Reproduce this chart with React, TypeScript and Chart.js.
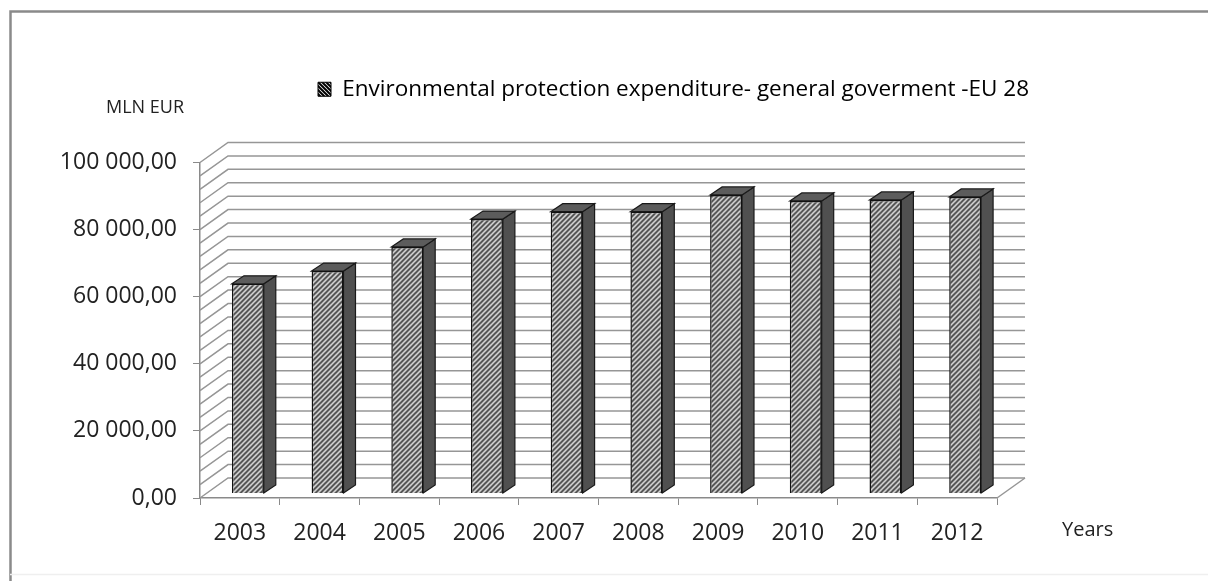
import React, { useEffect, useRef } from "react";
import { Chart, registerables } from "chart.js";

Chart.register(...registerables);

const years = ["2003", "2004", "2005", "2006", "2007", "2008", "2009", "2010", "2011", "2012"];
const expenditure = [62500, 66300, 73500, 81800, 84000, 84000, 89000, 87200, 87500, 88400];
const seriesName = "Environmental protection expenditure- general goverment -EU 28";
const yMax = 100000;
const yGridStep = 4000;
const yLabelStep = 20000;

const FONT = "'Open Sans', sans-serif";
const WALL_DX = 28;
const WALL_DY = 20;
const BAR_DX = 8;
const BAR_DY = 4.5;
const DEPTH_X = 12;
const DEPTH_Y = 8;

function fmt(v: number): string {
  const s = String(v);
  if (v === 0) return "0,00";
  return s.slice(0, -3) + " " + s.slice(-3) + ",00";
}

function hatch(dir: 1 | -1, size: number, bg: string, fg: string, lw: number): CanvasPattern {
  const c = document.createElement("canvas");
  c.width = size;
  c.height = size;
  const g = c.getContext("2d")!;
  g.fillStyle = bg;
  g.fillRect(0, 0, size, size);
  g.strokeStyle = fg;
  g.lineWidth = lw;
  const n = size;
  const segs = dir === 1
    ? [[-1, n + 1, n + 1, -1], [-1, 1, 1, -1], [n - 1, n + 1, n + 1, n - 1]]
    : [[-1, -1, n + 1, n + 1], [-1, n - 1, 1, n + 1], [n - 1, -1, n + 1, 1]];
  for (const [a, b, d, e] of segs) {
    g.beginPath();
    g.moveTo(a, b);
    g.lineTo(d, e);
    g.stroke();
  }
  return g.createPattern(c, "repeat")!;
}

const scene3d = {
  id: "scene3d",
  afterLayout(chart: any) {
    const lg = chart.legend;
    if (lg) {
      lg.left = 308;
      lg.right = 1100;
      lg.top = 68;
    }
  },
  beforeDatasetsDraw(chart: any) {
    const { ctx, scales, chartArea } = chart;
    const y = scales.y;
    ctx.save();
    ctx.strokeStyle = "#969696";
    ctx.lineWidth = 1.5;
    y.ticks.forEach((t: any) => {
      const py = y.getPixelForValue(t.value);
      ctx.beginPath();
      ctx.moveTo(chartArea.left, py);
      ctx.lineTo(chartArea.left + WALL_DX, py - WALL_DY);
      ctx.lineTo(chartArea.right + WALL_DX, py - WALL_DY);
      ctx.stroke();
    });
    const by = y.getPixelForValue(0);
    ctx.beginPath();
    ctx.moveTo(chartArea.right, by);
    ctx.lineTo(chartArea.right + WALL_DX, by - WALL_DY);
    ctx.stroke();
    ctx.restore();

    ctx.save();
    ctx.translate(BAR_DX, -BAR_DY);
    chart.getDatasetMeta(0).data.forEach((b: any) => {
      const l = b.x - b.width / 2;
      const r = b.x + b.width / 2;
      ctx.fillStyle = "#505050";
      ctx.strokeStyle = "#1a1a1a";
      ctx.lineWidth = 1.2;
      ctx.beginPath();
      ctx.moveTo(r, b.base);
      ctx.lineTo(r + DEPTH_X, b.base - DEPTH_Y);
      ctx.lineTo(r + DEPTH_X, b.y - DEPTH_Y);
      ctx.lineTo(r, b.y);
      ctx.closePath();
      ctx.fill();
      ctx.stroke();
      ctx.fillStyle = "#5c5c5c";
      ctx.beginPath();
      ctx.moveTo(l, b.y);
      ctx.lineTo(l + DEPTH_X, b.y - DEPTH_Y);
      ctx.lineTo(r + DEPTH_X, b.y - DEPTH_Y);
      ctx.lineTo(r, b.y);
      ctx.closePath();
      ctx.fill();
      ctx.stroke();
    });
    ctx.restore();
    ctx.save();
    ctx.translate(BAR_DX, -BAR_DY);
  },
  afterDatasetsDraw(chart: any) {
    chart.ctx.restore();
  },
  afterDraw(chart: any) {
    const { ctx, width, height } = chart;
    ctx.save();
    ctx.strokeStyle = "#8a8a8a";
    ctx.lineWidth = 2.5;
    ctx.beginPath();
    ctx.moveTo(10.5, height);
    ctx.lineTo(10.5, 11.5);
    ctx.lineTo(width, 11.5);
    ctx.stroke();
    ctx.strokeStyle = "#efefef";
    ctx.lineWidth = 1.5;
    ctx.beginPath();
    ctx.moveTo(10, 574.5);
    ctx.lineTo(width, 574.5);
    ctx.stroke();
    ctx.fillStyle = "#222222";
    ctx.textBaseline = "middle";
    ctx.textAlign = "left";
    ctx.font = `18px ${FONT}`;
    ctx.fillText("MLN EUR", 106, 108);
    ctx.font = `20px ${FONT}`;
    ctx.fillText("Years", 1062, 530);
    ctx.restore();
  },
};

export default function App() {
  const ref = useRef<HTMLCanvasElement>(null);
  useEffect(() => {
    document.body.style.margin = "0";
    const barFill = hatch(1, 5, "#d8d8d8", "#404040", 1.7);
    const legendFill = hatch(-1, 4, "#f4f4f4", "#000000", 2);
    const chart = new Chart(ref.current!, {
      type: "bar",
      data: {
        labels: years,
        datasets: [
          {
            label: seriesName,
            data: expenditure,
            backgroundColor: barFill,
            borderColor: "#111111",
            borderWidth: 1.5,
            barPercentage: 0.4,
            categoryPercentage: 1,
          },
        ],
      },
      plugins: [scene3d],
      options: {
        animation: false,
        responsive: false,
        layout: { padding: { top: 120, left: 0, right: 1208 - 997, bottom: 0 } },
        plugins: {
          tooltip: { enabled: false },
          legend: {
            position: "top",
            align: "start",
            labels: {
              color: "#222222",
              font: { family: FONT, size: 22.5 },
              boxWidth: 13,
              boxHeight: 14,
              padding: 10,
              generateLabels: () => [
                {
                  text: seriesName,
                  fillStyle: legendFill,
                  strokeStyle: "#000000",
                  lineWidth: 1,
                  datasetIndex: 0,
                },
              ],
            },
          },
        },
        scales: {
          x: {
            afterFit: (s: any) => {
              s.height = 83;
            },
            grid: { drawOnChartArea: false, offset: true, tickLength: 7, color: "#8a8a8a", tickColor: "#8a8a8a" },
            border: { color: "#8a8a8a", width: 1.5 },
            ticks: { color: "#222222", font: { family: FONT, size: 23 }, padding: 15, maxRotation: 0 },
          },
          y: {
            min: 0,
            max: yMax,
            afterFit: (s: any) => {
              s.width = 200;
            },
            grid: {
              drawOnChartArea: false,
              tickLength: 7,
              tickColor: (c: any) => (c.tick.value % yLabelStep === 0 ? "#8a8a8a" : "rgba(0,0,0,0)"),
            },
            border: { color: "#8a8a8a", width: 1.5 },
            ticks: {
              stepSize: yGridStep,
              autoSkip: false,
              color: "#222222",
              font: { family: FONT, size: 23 },
              padding: 16,
              callback: (v: any) => (Number(v) % yLabelStep === 0 ? fmt(Number(v)) : ""),
            },
          },
        },
      },
    } as any);
    return () => chart.destroy();
  }, []);
  return (
    <canvas
      ref={ref}
      width={1208}
      height={581}
      style={{ display: "block", background: "#fff", filter: "blur(0.4px)" }}
    />
  );
}
